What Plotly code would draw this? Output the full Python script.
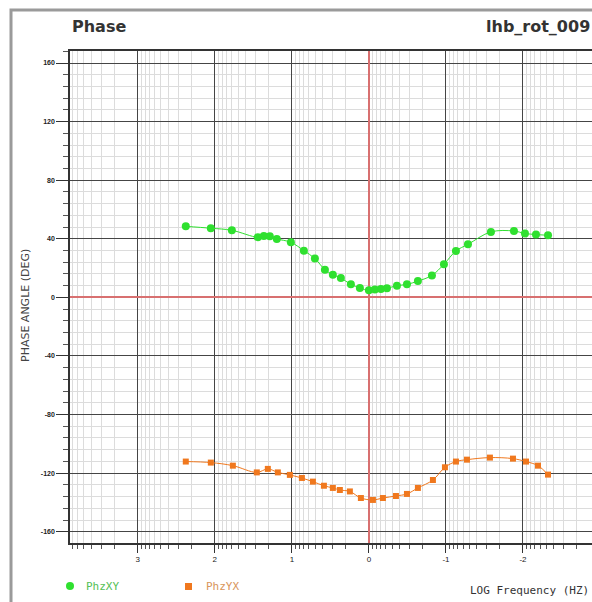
import math
import plotly.graph_objects as go

# ---- data (log frequency, phase in degrees) ----
xy_logf = [2.377, 2.052, 1.779, 1.442, 1.364, 1.286, 1.195, 1.013, 0.844, 0.701,
           0.571, 0.468, 0.364, 0.234, 0.117, 0.0, -0.078, -0.156, -0.234, -0.364,
           -0.494, -0.636, -0.818, -0.974, -1.130, -1.286, -1.584, -1.883, -2.026,
           -2.169, -2.325]
xy_phase = [48.5, 47.2, 45.8, 41.0, 41.9, 41.7, 39.9, 37.6, 31.9, 26.5,
            18.9, 15.5, 13.2, 8.9, 6.4, 4.8, 5.3, 5.7, 6.2, 8.0,
            8.9, 11.1, 15.0, 22.6, 31.7, 36.2, 44.7, 45.3, 43.6,
            42.9, 42.4]

yx_logf = [2.377, 2.052, 1.766, 1.455, 1.312, 1.182, 1.026, 0.870, 0.727, 0.584,
           0.468, 0.377, 0.247, 0.104, -0.052, -0.182, -0.351, -0.494, -0.636,
           -0.831, -0.987, -1.130, -1.273, -1.571, -1.870, -2.039, -2.195, -2.325]
yx_phase = [-112.1, -112.8, -114.9, -119.5, -117.1, -119.5, -121.2, -123.3, -125.8, -128.6,
            -130.1, -131.5, -132.5, -137.0, -138.3, -137.0, -135.6, -134.2, -130.1,
            -124.7, -116.0, -112.1, -110.8, -109.4, -110.1, -112.1, -114.9, -121.0]

x_ticks = [3, 2, 1, 0, -1, -2]
x_labels = ["3", "2", "1", "0", "-1", "-2"]
y_ticks = [-160, -120, -80, -40, 0, 40, 80, 120, 160]
y_labels = ["-160", "-120", "-80", "-40", "0", "40", "80", "120", "160"]

# ---- layout geometry ----
W, H = 592, 602
L, R, T, B = 70, 0, 51, 59
PW = W - L - R
PH = H - T - B


def px(x):
    return (x - L) / PW


def py(y):
    return (H - B - y) / PH


minor_x = []
for d in range(-3, 4):
    for k in range(2, 10):
        v = d + math.log10(k)
        if -2.9 <= v <= 3.9:
            minor_x.append(v)

GREEN = "#2fe02f"
ORANGE = "#f0781e"

fig = go.Figure()
fig.add_trace(go.Scatter(
    x=xy_logf, y=xy_phase, mode="lines+markers", name="PhzXY",
    line=dict(color=GREEN, width=1, shape="spline"),
    marker=dict(symbol="circle", size=8, color=GREEN),
))
fig.add_trace(go.Scatter(
    x=yx_logf, y=yx_phase, mode="lines+markers", name="PhzYX",
    line=dict(color=ORANGE, width=1, shape="spline"),
    marker=dict(symbol="square", size=6, color=ORANGE),
))

fig.update_layout(
    width=W, height=H,
    margin=dict(l=L, r=R, t=T, b=B),
    paper_bgcolor="white", plot_bgcolor="white",
    showlegend=False,
    font=dict(family="Liberation Sans, Arial, sans-serif", color="#222"),
    xaxis=dict(
        range=[3.88, -2.896],
        tickmode="array", tickvals=x_ticks, ticktext=x_labels,
        ticks="outside", ticklen=8, tickcolor="#333", tickwidth=1,
        tickfont=dict(size=8, color="#222"),
        showgrid=True, gridcolor="#454545", gridwidth=1,
        zeroline=True, zerolinecolor="#d87070", zerolinewidth=2,
        showline=True, linecolor="#333", linewidth=1.5, mirror=True,
        minor=dict(tickmode="array", tickvals=minor_x, ticks="outside", ticklen=4,
                   tickcolor="#555", showgrid=True, gridcolor="#dcdcdc", gridwidth=1),
    ),
    yaxis=dict(
        range=[-167.7, 168.2],
        tickmode="array", tickvals=y_ticks, ticktext=y_labels,
        ticks="outside", ticklen=12, tickcolor="#333", tickwidth=1,
        tickfont=dict(size=7, color="#222", weight="bold"),
        showgrid=True, gridcolor="#454545", gridwidth=1,
        zeroline=True, zerolinecolor="#d87070", zerolinewidth=2,
        showline=True, linecolor="#333", linewidth=1.5,
        minor=dict(dtick=8, tick0=0, ticks="outside", ticklen=5, tickcolor="#555",
                   showgrid=True, gridcolor="#dcdcdc", gridwidth=1),
    ),
)

# outer window frame
fig.add_shape(type="path", xref="paper", yref="paper",
              path=f"M {px(11)} {py(610)} L {px(11)} {py(10)} L {px(600)} {py(10)}",
              line=dict(color="#9a9a9a", width=3), layer="above")

ann = [
    dict(text="<b>Phase</b>", x=px(70), y=py(27), xanchor="left", yanchor="middle",
         font=dict(size=16, color="#333", family="DejaVu Sans, sans-serif")),
    dict(text="<b>lhb_rot_009</b>", x=px(484), y=py(27), xanchor="left", yanchor="middle",
         font=dict(size=16, color="#333", family="DejaVu Sans, sans-serif")),
    dict(text="PHASE ANGLE (DEG)", x=px(25), y=py(306), textangle=-90,
         xanchor="center", yanchor="middle",
         font=dict(size=11, color="#444", family="DejaVu Sans, sans-serif")),
    dict(text="LOG Frequency (HZ)", x=px(591), y=py(590), xanchor="right", yanchor="middle",
         font=dict(size=11, color="#333", family="DejaVu Sans Mono, monospace")),
    dict(text="PhzXY", x=px(84), y=py(586), xanchor="left", yanchor="middle",
         font=dict(size=11, color="#55c055", family="DejaVu Sans Mono, monospace")),
    dict(text="PhzYX", x=px(204), y=py(586), xanchor="left", yanchor="middle",
         font=dict(size=11, color="#d8955a", family="DejaVu Sans Mono, monospace")),
]
for a in ann:
    fig.add_annotation(xref="paper", yref="paper", showarrow=False, **a)

# legend symbols
fig.add_shape(type="circle", xref="paper", yref="paper",
              x0=px(66), x1=px(74), y0=py(582), y1=py(590),
              fillcolor=GREEN, line=dict(color=GREEN, width=0))
fig.add_shape(type="rect", xref="paper", yref="paper",
              x0=px(185), x1=px(192), y0=py(583), y1=py(590),
              fillcolor=ORANGE, line=dict(color=ORANGE, width=0))

fig.write_html(
    "out.html",
    config={"displayModeBar": False},
    post_script="document.body.style.margin='0';document.body.style.overflow='hidden';",
)
